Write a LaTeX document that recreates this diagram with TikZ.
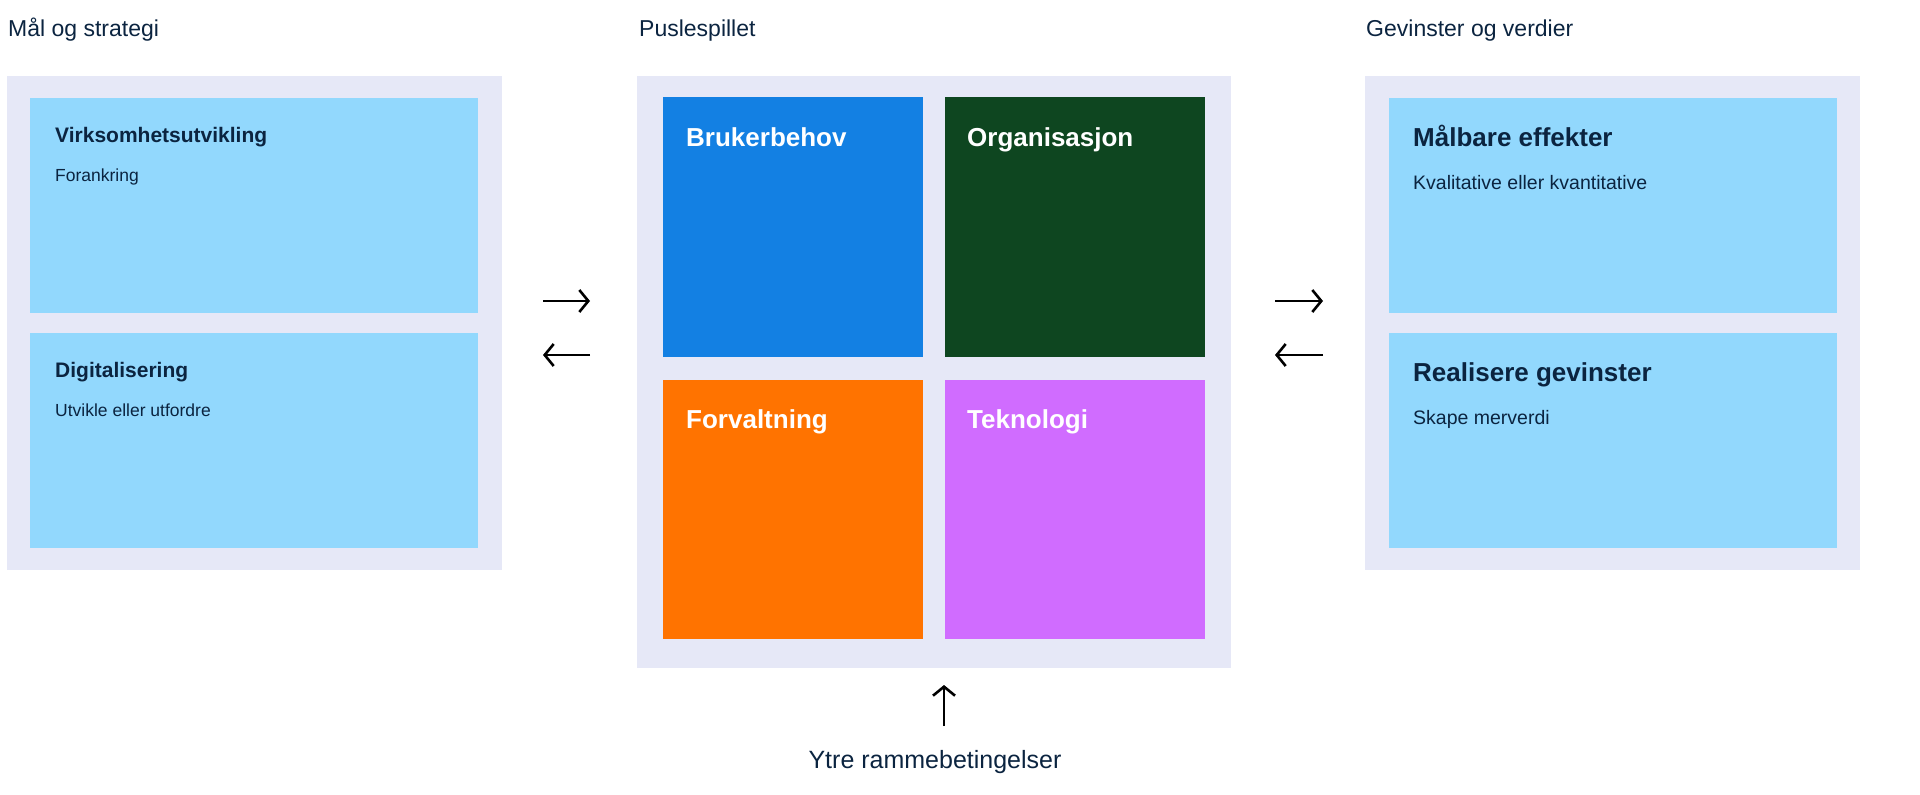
\documentclass[tikz,border=0pt]{standalone}
\usepackage{fontspec}
\setmainfont{Liberation Sans}
\usetikzlibrary{arrows.meta}
\definecolor{panel}{HTML}{E6E8F7}
\definecolor{lblue}{HTML}{92D8FD}
\definecolor{cblue}{HTML}{1380E3}
\definecolor{cgreen}{HTML}{0E4620}
\definecolor{corange}{HTML}{FF7300}
\definecolor{cpurple}{HTML}{D06CFF}
\definecolor{ink}{HTML}{0B2440}
\tikzset{
  box/.style={draw=none,inner sep=0,anchor=north west},
  lbl/.style={inner sep=0,anchor=base west,text=ink},
  wlbl/.style={inner sep=0,anchor=base west,text=white,font=\fontsize{26}{30}\selectfont\bfseries},
  arr/.style={line width=2.6pt,-{Straight Barb[length=9pt,width=22pt,line width=2.6pt]}},
}
\begin{document}
\begin{tikzpicture}[x=1pt,y=-1pt]
\useasboundingbox (0,0) rectangle (1920,795);
% panels
\node[box,fill=panel,minimum width=495,minimum height=494] (pl) at (7,76) {};
\node[box,fill=panel,minimum width=594,minimum height=592] (pc) at (637,76) {};
\node[box,fill=panel,minimum width=495,minimum height=494] (pr) at (1365,76) {};
% headers
\node[lbl,font=\fontsize{23}{27}\selectfont] (hl) at (8,36) {Mål og strategi};
\node[lbl,font=\fontsize{23}{27}\selectfont] (hc) at (639,36) {Puslespillet};
\node[lbl,font=\fontsize{23}{27}\selectfont] (hr) at (1366,36) {Gevinster og verdier};
% left boxes
\node[box,fill=lblue,minimum width=448,minimum height=215] (l1) at (30,98) {};
\node[box,fill=lblue,minimum width=448,minimum height=215] (l2) at (30,333) {};
\node[lbl,font=\fontsize{21}{25}\selectfont\bfseries] at (55,142) {Virksomhetsutvikling};
\node[lbl,font=\fontsize{17.5}{21}\selectfont] at (55,181) {Forankring};
\node[lbl,font=\fontsize{21}{25}\selectfont\bfseries] at (55,377) {Digitalisering};
\node[lbl,font=\fontsize{17.5}{21}\selectfont] at (55,416) {Utvikle eller utfordre};
% centre boxes
\node[box,fill=cblue,minimum width=260,minimum height=260] (c1) at (663,97) {};
\node[box,fill=cgreen,minimum width=260,minimum height=260] (c2) at (945,97) {};
\node[box,fill=corange,minimum width=260,minimum height=259] (c3) at (663,380) {};
\node[box,fill=cpurple,minimum width=260,minimum height=259] (c4) at (945,380) {};
\node[wlbl] at (686,146) {Brukerbehov};
\node[wlbl] at (967,146) {Organisasjon};
\node[wlbl] at (686,428) {Forvaltning};
\node[wlbl] at (967,428) {Teknologi};
% right boxes
\node[box,fill=lblue,minimum width=448,minimum height=215] (r1) at (1389,98) {};
\node[box,fill=lblue,minimum width=448,minimum height=215] (r2) at (1389,333) {};
\node[lbl,font=\fontsize{26}{30}\selectfont\bfseries] at (1413,146) {Målbare effekter};
\node[lbl,font=\fontsize{19.5}{23}\selectfont] at (1413,189) {Kvalitative eller kvantitative};
\node[lbl,font=\fontsize{26}{30}\selectfont\bfseries] at (1413,381) {Realisere gevinster};
\node[lbl,font=\fontsize{19.5}{23}\selectfont] at (1413,424) {Skape merverdi};
% arrows
\coordinate (a1s) at (543,301); \coordinate (a1e) at (590,301);
\coordinate (a2s) at (590,355); \coordinate (a2e) at (543,355);
\coordinate (a3s) at (1275,301); \coordinate (a3e) at (1323,301);
\coordinate (a4s) at (1323,355); \coordinate (a4e) at (1275,355);
\draw[arr] (a1s) -- (a1e);
\draw[arr] (a2s) -- (a2e);
\draw[arr] (a3s) -- (a3e);
\draw[arr] (a4s) -- (a4e);
\node[inner sep=0,anchor=base,text=ink,font=\fontsize{25}{29}\selectfont] (ytre) at (935,768) {Ytre rammebetingelser};
\coordinate (a5s) at (944,726); \coordinate (a5e) at (944,685);
\draw[arr] (a5s) -- (a5e);
\end{tikzpicture}
\end{document}
